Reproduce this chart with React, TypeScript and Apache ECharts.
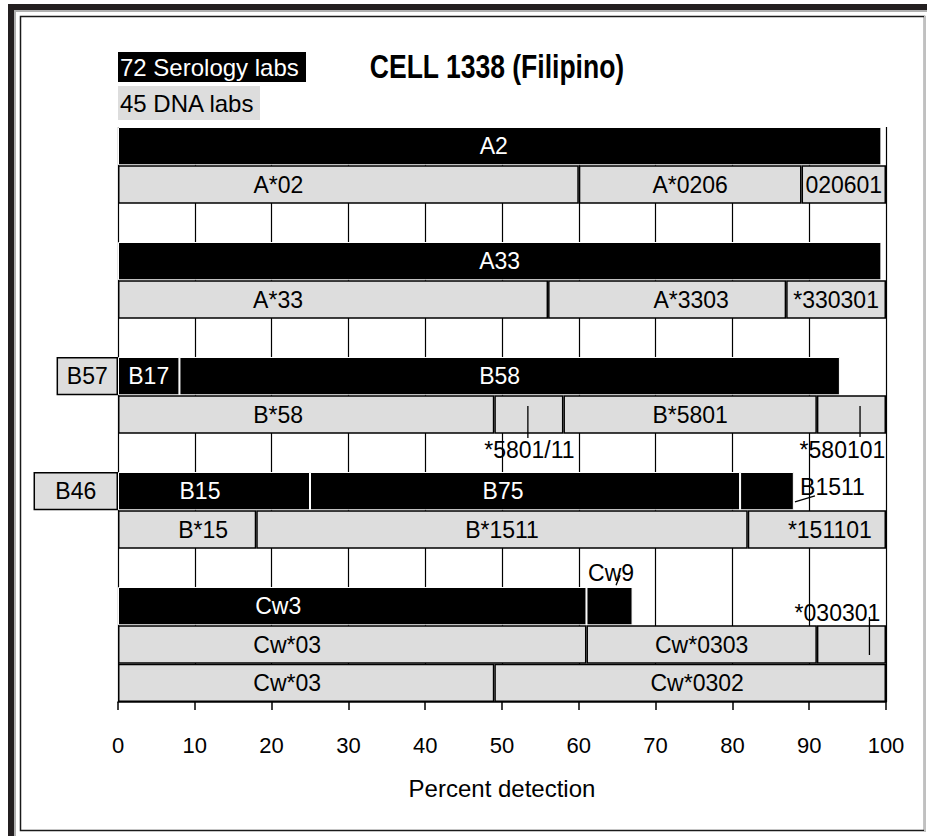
import React, { useEffect, useRef } from "react";
import * as echarts from "echarts";

const FONT = '"Liberation Sans", Arial, sans-serif';
const BLACK = "#000000";
const GREY = "#dddddd";

// 15 horizontal rows, top to bottom
const rowNames = [
  "A2", "A DNA", "gap1", "A33", "A33 DNA", "gap2", "B58", "B58 DNA", "gap3",
  "B75", "B15 DNA", "gap4", "Cw3", "Cw03 DNA", "Cw0302 DNA",
];

// x-axis ticks
const xTicks = [0, 10, 20, 30, 40, 50, 60, 70, 80, 90, 100];

// Serology (72 labs) – black bars
const a2Vals = [99.4];
const a2Labs = ["A2"];
const a33Vals = [99.4];
const a33Labs = ["A33"];
const b58Vals = [8, 86];
const b58Labs = ["B17", "B58"];
const b75Vals = [25, 56, 7];
const b75Labs = ["B15", "B75", "B1511"];
const cw3Vals = [61, 6];
const cw3Labs = ["Cw3", "Cw9"];

// Serology shown left of zero
const negVals = [-8, -11];
const negLabs = ["B57", "B46"];
const negRows = [6, 9];

// DNA (45 labs) – grey bars
const a02Vals = [60, 29, 11];
const a02Labs = ["A*02", "A*0206", "020601"];
const a33DnaVals = [56, 31, 13];
const a33DnaLabs = ["A*33", "A*3303", "*330301"];
const b58DnaVals = [49, 9, 33, 9];
const b58DnaLabs = ["B*58", "*5801/11", "B*5801", "*580101"];
const b15DnaVals = [18, 64, 18];
const b15DnaLabs = ["B*15", "B*1511", "*151101"];
const cw03Vals = [61, 30, 9];
const cw03Labs = ["Cw*03", "Cw*0303", "*030301"];
const cw0302Vals = [49, 51];
const cw0302Labs = ["Cw*03", "Cw*0302"];

const seroRows = [
  { row: 0, v: a2Vals, l: a2Labs },
  { row: 3, v: a33Vals, l: a33Labs },
  { row: 6, v: b58Vals, l: b58Labs },
  { row: 9, v: b75Vals, l: b75Labs },
  { row: 12, v: cw3Vals, l: cw3Labs },
];
const dnaRows = [
  { row: 1, v: a02Vals, l: a02Labs },
  { row: 4, v: a33DnaVals, l: a33DnaLabs },
  { row: 7, v: b58DnaVals, l: b58DnaLabs },
  { row: 10, v: b15DnaVals, l: b15DnaLabs },
  { row: 13, v: cw03Vals, l: cw03Labs },
  { row: 14, v: cw0302Vals, l: cw0302Labs },
];

// horizontal pixel shift of some in-bar labels (as placed in the original)
const labelShift: Record<string, number> = {
  "0:A2": -6,
  "1:A*02": -70,
  "4:A*33": -55,
  "4:A*3303": 24,
  "6:B58": -10,
  "7:B*58": -28,
  "9:B15": -14,
  "9:B75": -22,
  "10:B*15": 16,
  "10:*151101": 13,
  "12:Cw3": -74,
  "13:Cw*03": -65,
  "14:Cw*03": -19,
  "14:Cw*0302": 7,
};

// labels drawn outside their (small) segment, with a leader line
const outsideLabels = ["*5801/11", "*580101", "B1511", "Cw9", "*030301"];
// pixel offsets from segment centre: text (tx,ty), line [x1,y1,x2,y2]
const outsideLayout: Record<string, { tx: number; ty: number; line: number[] }> = {
  "*5801/11": { tx: 0.5, ty: 35.5, line: [-1, -8.5, -1, 23.5] },
  "*580101": { tx: -9, ty: 35.5, line: [8.6, -8.5, 8.6, 22.5] },
  B1511: { tx: 65.5, ty: -3.7, line: [28, 10.8, 48, 4.8] },
  Cw9: { tx: 1.5, ty: -33, line: [6.5, -21, 10.5, -31] },
  "*030301": { tx: -14, ty: -31.5, line: [18, -27.5, 18, 10.5] },
};

function buildGroupSeries(group: typeof seroRows, kind: "sero" | "dna") {
  const maxSeg = Math.max(...group.map((g) => g.v.length));
  const series: any[] = [];
  for (let k = 0; k < maxSeg; k++) {
    const labels: string[] = rowNames.map(() => "");
    const data = rowNames.map((_, r) => {
      const g = group.find((x) => x.row === r);
      if (!g || g.v[k] === undefined) return "-";
      labels[r] = g.l[k];
      const shift = labelShift[r + ":" + g.l[k]] || 0;
      return { value: g.v[k], label: { offset: [shift, 0] } };
    });
    series.push({
      type: "bar",
      name: kind + k,
      stack: "all",
      barWidth: "100%",
      clip: false,
      z: kind === "sero" ? 2 : 3,
      data,
      itemStyle:
        kind === "sero"
          ? { color: BLACK, borderColor: "#ffffff", borderWidth: 1 }
          : { color: GREY, borderColor: BLACK, borderWidth: 1.5 },
      label: {
        show: true,
        position: "inside",
        color: kind === "sero" ? "#ffffff" : BLACK,
        fontSize: 23,
        fontFamily: FONT,
        formatter: (p: any) =>
          outsideLabels.includes(labels[p.dataIndex]) ? "" : labels[p.dataIndex],
      },
    });
  }
  return series;
}

export default function App() {
  const ref = useRef<HTMLDivElement>(null);
  useEffect(() => {
    if (!ref.current) return;
    const chart = echarts.init(ref.current, undefined, { renderer: "svg" });

    const negData = rowNames.map((_, r) => {
      const i = negRows.indexOf(r);
      return i >= 0 ? negVals[i] : "-";
    });

    // outside label anchors: centre of segment, derived from data
    const outsideData: number[][] = [];
    const outsideNames: string[] = [];
    [...seroRows, ...dnaRows].forEach((g) => {
      let start = 0;
      g.v.forEach((val, k) => {
        if (outsideLabels.includes(g.l[k])) {
          outsideData.push([start + val / 2, g.row]);
          outsideNames.push(g.l[k]);
        }
        start += val;
      });
    });

    const option: any = {
      animation: false,
      backgroundColor: "#ffffff",
      textStyle: { fontFamily: FONT },
      grid: { left: 118, top: 127, width: 768, height: 575, containLabel: false },
      xAxis: {
        type: "value",
        min: xTicks[0],
        max: xTicks[xTicks.length - 1],
        interval: 10,
        axisLine: { show: true, lineStyle: { color: BLACK, width: 1.5 } },
        axisTick: { show: true, length: 8, lineStyle: { color: BLACK, width: 1.5 } },
        axisLabel: { color: BLACK, fontSize: 22, fontFamily: FONT, margin: 32 },
        splitLine: { show: true, lineStyle: { color: BLACK, width: 1.2 } },
        name: "Percent detection",
        nameLocation: "middle",
        nameGap: 74,
        nameTextStyle: { color: BLACK, fontSize: 24, fontFamily: FONT },
      },
      yAxis: {
        type: "category",
        inverse: true,
        data: rowNames,
        axisLine: { show: false },
        axisTick: { show: false },
        axisLabel: { show: false },
        splitLine: { show: false },
      },
      series: [
        {
          type: "bar",
          name: "neg",
          stack: "all",
          barWidth: "100%",
          clip: false,
          z: 3,
          data: negData,
          itemStyle: { color: GREY, borderColor: BLACK, borderWidth: 1.5 },
          label: {
            show: true,
            position: "inside",
            color: BLACK,
            fontSize: 23,
            fontFamily: FONT,
            formatter: (p: any) => negLabs[negRows.indexOf(p.dataIndex)] || "",
          },
        },
        ...buildGroupSeries(seroRows, "sero"),
        ...buildGroupSeries(dnaRows, "dna"),
        {
          type: "custom",
          name: "outside labels",
          z: 6,
          clip: false,
          encode: { x: 0, y: 1 },
          data: outsideData,
          renderItem: (params: any, api: any) => {
            const name = outsideNames[params.dataIndex];
            const lay = outsideLayout[name];
            const p = api.coord([api.value(0), api.value(1)]);
            return {
              type: "group",
              children: [
                {
                  type: "line",
                  shape: {
                    x1: p[0] + lay.line[0],
                    y1: p[1] + lay.line[1],
                    x2: p[0] + lay.line[2],
                    y2: p[1] + lay.line[3],
                  },
                  style: { stroke: BLACK, lineWidth: 1.3 },
                },
                {
                  type: "text",
                  x: p[0] + lay.tx,
                  y: p[1] + lay.ty,
                  style: {
                    text: name,
                    fill: BLACK,
                    fontSize: 23,
                    fontFamily: FONT,
                    align: "center",
                    verticalAlign: "middle",
                  },
                },
              ],
            };
          },
        },
      ],
      graphic: [
        // frame
        { type: "rect", shape: { x: 8, y: 4, width: 919, height: 6 }, style: { fill: "#231f20" }, silent: true },
        { type: "rect", shape: { x: 8, y: 4, width: 6, height: 832 }, style: { fill: "#231f20" }, silent: true },
        { type: "rect", shape: { x: 14, y: 10, width: 913, height: 2 }, style: { fill: "#b0b0b0" }, silent: true },
        { type: "rect", shape: { x: 14, y: 10, width: 2, height: 826 }, style: { fill: "#b0b0b0" }, silent: true },
        {
          type: "rect",
          shape: { x: 20.5, y: 16.5, width: 904, height: 814 },
          style: { fill: "none", stroke: "#1a1a1a", lineWidth: 1.5 },
          silent: true,
        },
        { type: "rect", shape: { x: 924, y: 16, width: 2, height: 816 }, style: { fill: "#c0c0c0" }, silent: true },
        // legend boxes
        { type: "rect", shape: { x: 118, y: 52, width: 188, height: 30 }, style: { fill: BLACK } },
        {
          type: "text",
          x: 120,
          y: 67,
          style: { text: "72 Serology labs", fill: "#ffffff", fontSize: 24, fontFamily: FONT, verticalAlign: "middle" },
        },
        { type: "rect", shape: { x: 118, y: 86, width: 142, height: 34 }, style: { fill: GREY } },
        {
          type: "text",
          x: 120,
          y: 103,
          style: { text: "45 DNA labs", fill: BLACK, fontSize: 24, fontFamily: FONT, verticalAlign: "middle" },
        },
        // title (condensed bold, as in the original)
        {
          type: "text",
          x: 497,
          y: 66,
          scaleX: 0.78,
          style: {
            text: "CELL 1338 (Filipino)",
            fill: BLACK,
            fontSize: 34,
            fontWeight: "bold",
            fontFamily: FONT,
            align: "center",
            verticalAlign: "middle",
          },
        },
      ],
    };
    chart.setOption(option);
    return () => chart.dispose();
  }, []);
  return (
    <div
      ref={ref}
      style={{ position: "absolute", left: 0, top: 0, width: 927, height: 836, background: "#fff" }}
    />
  );
}
